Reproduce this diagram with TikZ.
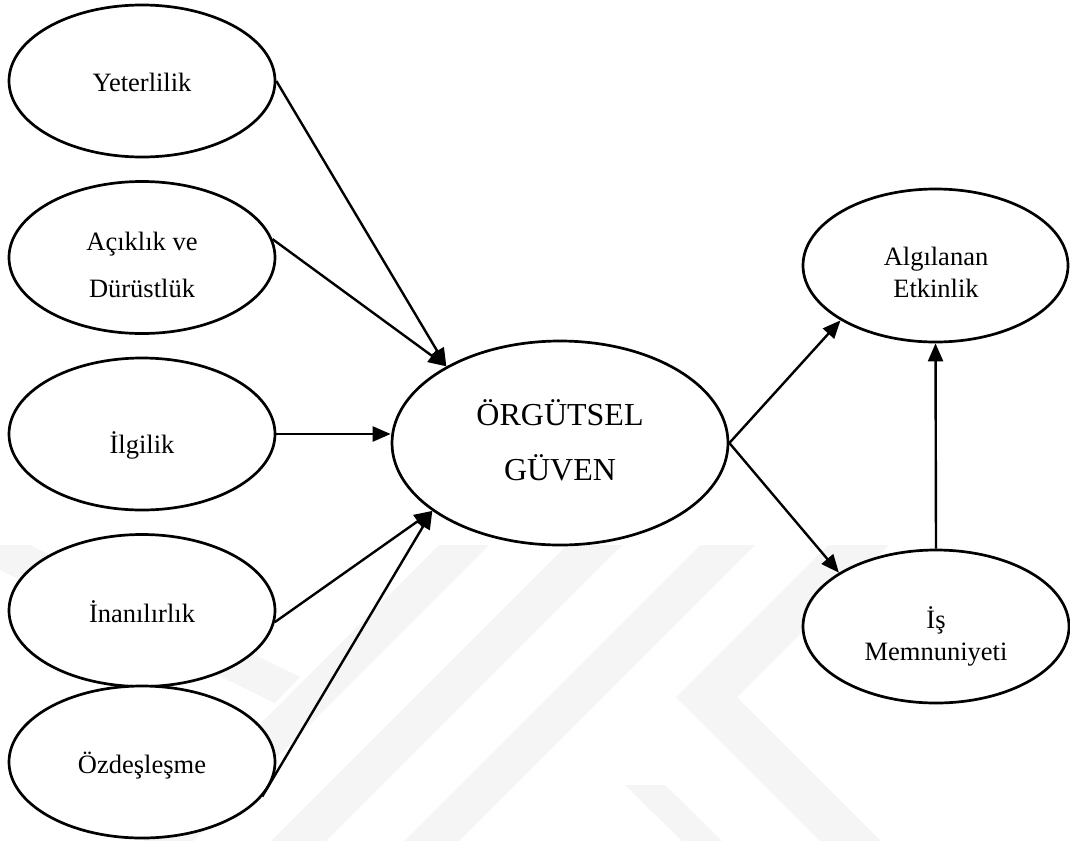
\documentclass[tikz,border=0pt]{standalone}
\usepackage{fontspec}
\setmainfont{Liberation Serif}
\usetikzlibrary{shapes.geometric,arrows.meta}
\begin{document}
\begin{tikzpicture}[x=1pt,y=-1pt,
  oval/.style={ellipse,draw,line width=2.7pt,fill=white,inner sep=0pt,
               minimum width=266pt,minimum height=152pt},
  lbl/.style={anchor=base,inner sep=0pt,font=\fontsize{26.5}{30}\selectfont},
  biglbl/.style={anchor=base,inner sep=0pt,font=\fontsize{32}{38}\selectfont},
  link/.style={line width=2.4pt,-{Triangle[length=18pt,width=15pt]}},
  wm/.style={fill=black!4,draw=none}]

% page and its size
\fill[white] (0,0) rectangle (1070,841);
\useasboundingbox (0,0) rectangle (1070,841);

% faint background emblem (diagonal stripes)
\begin{scope}
  \clip (0,545) rectangle (1070,841);
  \fill[wm] (0,545) -- (30,545) -- (300,677) -- (275,703) -- (0,570) -- cycle;
  \fill[wm] (439,545) -- (489,545) -- (193,841) -- (143,841) -- cycle;
  \fill[wm] (567,545) -- (622,545) -- (326,841) -- (271,841) -- cycle;
  \fill[wm] (700,545) -- (755,545) -- (459,841) -- (404,841) -- cycle;
  \fill[wm] (828,545) -- (889,545) -- (737,697) -- (881,841) -- (820,841) -- (676,697) -- cycle;
  \fill[wm] (625,785) -- (665,785) -- (722,841) -- (682,841) -- cycle;
\end{scope}

% ellipses
\node[oval] (yet) at (142,81) {};
\node[oval] (acik) at (142,257.5) {};
\node[oval] (ilgi) at (142,434) {};
\node[oval] (inan) at (142,610.5) {};
\node[oval] (ozd) at (142,762) {};
\node[oval,minimum width=336pt,minimum height=204pt] (org) at (560,443) {};
\node[oval,minimum width=265pt,minimum height=153pt] (alg) at (935.5,265.5) {};
\node[oval,minimum width=266pt,minimum height=153pt] (is) at (936,626.5) {};

% labels
\node[lbl] (tYet) at (142,91) {Yeterlilik};
\node[lbl] (tAc1) at (142,250) {Açıklık ve};
\node[lbl] (tAc2) at (142,297) {Dürüstlük};
\node[lbl] (tIlg) at (142,453) {İlgilik};
\node[lbl] (tInan) at (142,622) {İnanılırlık};
\node[lbl] (tOzd) at (142,773) {Özdeşleşme};
\node[biglbl] (tOrg1) at (560,425) {ÖRGÜTSEL};
\node[biglbl] (tOrg2) at (560,480) {GÜVEN};
\node[lbl] (tAlg1) at (936,265) {Algılanan};
\node[lbl] (tAlg2) at (936,297) {Etkinlik};
\node[lbl] (tIs1) at (936,628) {İş};
\node[lbl] (tIs2) at (936,660) {Memnuniyeti};

% connectors
\draw[link] (yet.east) -- (org.146);
\draw[link] (acik.8) -- (org.146);
\draw[link] (ilgi.east) -- (ilgi.east -| org.west);
\draw[link] (inan.-5) -- (org.208);
\draw[link] (ozd.-16) -- (org.208);
\draw[link] (org.east) -- (alg.210);
\draw[link] (org.east) -- (is.151);
\draw[link] (is.north) -- (alg.south);
\end{tikzpicture}
\end{document}
